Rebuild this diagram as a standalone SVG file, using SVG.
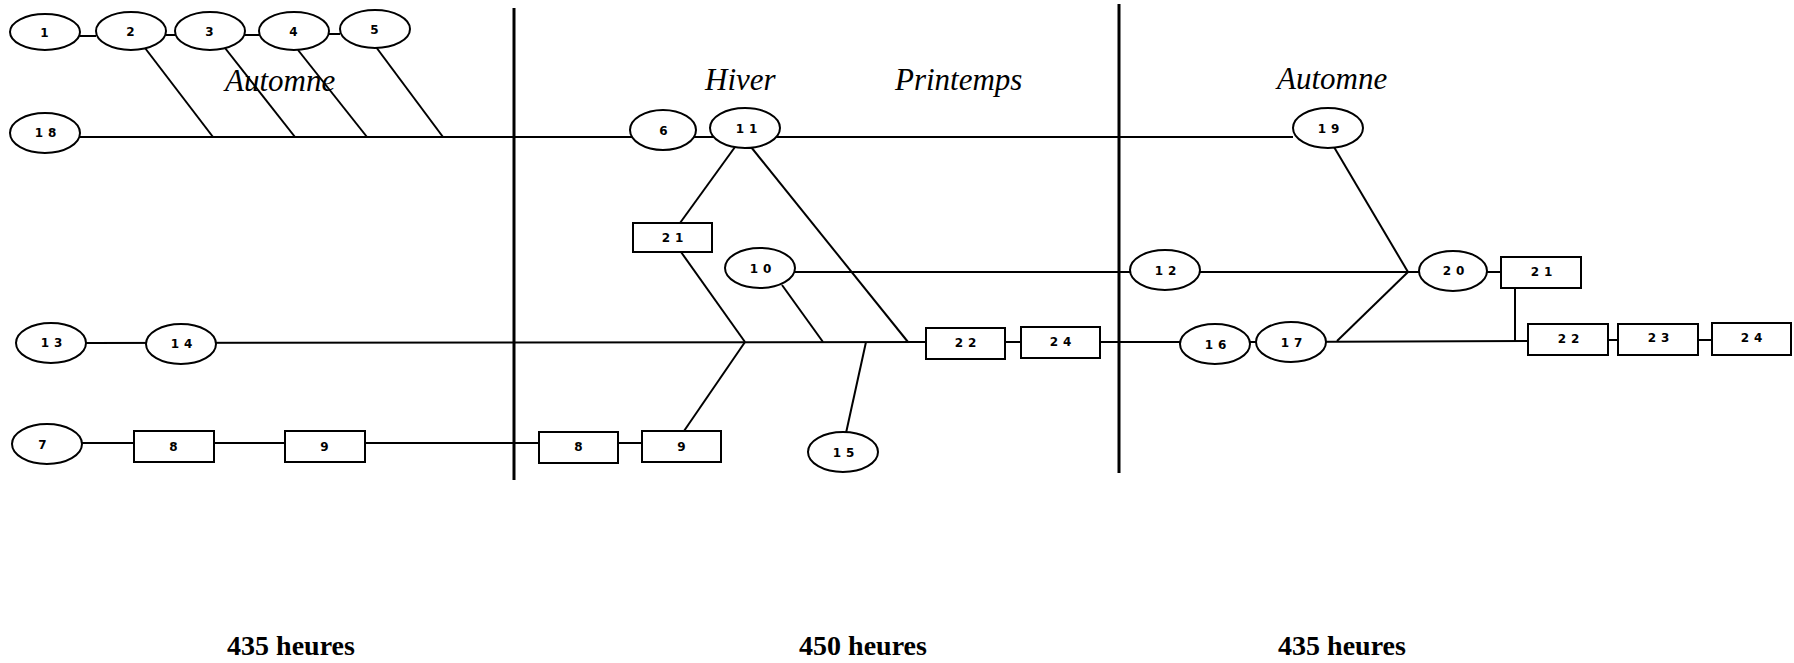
<svg xmlns="http://www.w3.org/2000/svg" width="1794" height="663" viewBox="0 0 1794 663">
<style>
.ln{stroke:#000;stroke-width:2;fill:none}
.div{stroke:#000;stroke-width:3;fill:none}
.el{fill:#fff;stroke:#000;stroke-width:2}
.bx{fill:#fff;stroke:#000;stroke-width:2}
.lb{font-family:"DejaVu Sans","Liberation Sans",sans-serif;font-weight:bold;font-size:12px;letter-spacing:5px;text-anchor:middle;dominant-baseline:central}
.season{font-family:"Liberation Serif","Times New Roman",serif;font-style:italic;font-size:31px}
.hrs{font-family:"Liberation Serif","Times New Roman",serif;font-weight:bold;font-size:28px;text-anchor:middle}
</style>
<rect width="1794" height="663" fill="#fff"/>
<g id="dividers">
<line class="div" x1="514" y1="8" x2="514" y2="480"/>
<line class="div" x1="1119" y1="4" x2="1119" y2="473"/>
</g>
<g id="connectors">
<polyline class="ln" points="80,36 96,36"/>
<polyline class="ln" points="166,35 175,35"/>
<polyline class="ln" points="245,35 259,35"/>
<polyline class="ln" points="329,34 340,34"/>
<line class="ln" x1="145" y1="48" x2="213" y2="137"/>
<line class="ln" x1="225" y1="48" x2="295" y2="137"/>
<line class="ln" x1="298" y1="50" x2="367" y2="137"/>
<line class="ln" x1="376" y1="47" x2="443" y2="137"/>
<line class="ln" x1="80" y1="137" x2="1293" y2="137"/>
<line class="ln" x1="735" y1="147" x2="680" y2="223"/>
<line class="ln" x1="751" y1="147" x2="908" y2="342"/>
<line class="ln" x1="681" y1="252" x2="745" y2="342"/>
<line class="ln" x1="745" y1="342" x2="684" y2="431"/>
<line class="ln" x1="782" y1="285" x2="823" y2="342"/>
<line class="ln" x1="866" y1="342" x2="846" y2="433"/>
<line class="ln" x1="795" y1="272" x2="1419" y2="272"/>
<line class="ln" x1="1334" y1="147" x2="1408" y2="272"/>
<line class="ln" x1="1337" y1="341" x2="1408" y2="272"/>
<line class="ln" x1="1487" y1="272" x2="1501" y2="272"/>
<line class="ln" x1="1515" y1="288" x2="1515" y2="341"/>
<line class="ln" x1="86" y1="343" x2="926" y2="342"/>
<line class="ln" x1="1005" y1="342" x2="1180" y2="342"/>
<line class="ln" x1="1250" y1="342" x2="1528" y2="341"/>
<line class="ln" x1="1608" y1="340" x2="1712" y2="340"/>
<line class="ln" x1="82" y1="443" x2="642" y2="443"/>
</g>
<g id="n1"><ellipse class="el" cx="45" cy="32" rx="35" ry="18"/><text class="lb" x="47" y="33">1</text></g>
<g id="n2"><ellipse class="el" cx="131" cy="31" rx="35" ry="19"/><text class="lb" x="133" y="32">2</text></g>
<g id="n3"><ellipse class="el" cx="210" cy="31" rx="35" ry="19"/><text class="lb" x="212" y="32">3</text></g>
<g id="n4"><ellipse class="el" cx="294" cy="31" rx="35" ry="19"/><text class="lb" x="296" y="32">4</text></g>
<g id="n5"><ellipse class="el" cx="375" cy="29" rx="35" ry="19"/><text class="lb" x="377" y="30">5</text></g>
<g id="n18"><ellipse class="el" cx="45" cy="133" rx="35" ry="20"/><text class="lb" x="48" y="133">18</text></g>
<g id="n6"><ellipse class="el" cx="663" cy="130" rx="33" ry="20"/><text class="lb" x="666" y="131">6</text></g>
<g id="n11"><ellipse class="el" cx="745" cy="128" rx="35" ry="20"/><text class="lb" x="749" y="129">11</text></g>
<g id="n19"><ellipse class="el" cx="1328" cy="128" rx="35" ry="20"/><text class="lb" x="1331" y="129">19</text></g>
<g id="n21a"><rect class="bx" x="633" y="223" width="79" height="29"/><text class="lb" x="675" y="238">21</text></g>
<g id="n10"><ellipse class="el" cx="760" cy="268" rx="35" ry="20"/><text class="lb" x="763" y="269">10</text></g>
<g id="n12"><ellipse class="el" cx="1165" cy="270" rx="35" ry="20"/><text class="lb" x="1168" y="271">12</text></g>
<g id="n20"><ellipse class="el" cx="1453" cy="271" rx="34" ry="20"/><text class="lb" x="1456" y="271">20</text></g>
<g id="n21b"><rect class="bx" x="1501" y="257" width="80" height="31"/><text class="lb" x="1544" y="272">21</text></g>
<g id="n13"><ellipse class="el" cx="51" cy="343" rx="35" ry="20"/><text class="lb" x="54" y="343">13</text></g>
<g id="n14"><ellipse class="el" cx="181" cy="344" rx="35" ry="20"/><text class="lb" x="184" y="344">14</text></g>
<g id="n22a"><rect class="bx" x="926" y="328" width="79" height="31"/><text class="lb" x="968" y="343">22</text></g>
<g id="n24a"><rect class="bx" x="1021" y="327" width="79" height="31"/><text class="lb" x="1063" y="342">24</text></g>
<g id="n16"><ellipse class="el" cx="1215" cy="344" rx="35" ry="20"/><text class="lb" x="1218" y="345">16</text></g>
<g id="n17"><ellipse class="el" cx="1291" cy="342" rx="35" ry="20"/><text class="lb" x="1294" y="343">17</text></g>
<g id="n22b"><rect class="bx" x="1528" y="324" width="80" height="31"/><text class="lb" x="1571" y="339">22</text></g>
<g id="n23"><rect class="bx" x="1618" y="324" width="80" height="31"/><text class="lb" x="1661" y="338">23</text></g>
<g id="n24b"><rect class="bx" x="1712" y="323" width="79" height="32"/><text class="lb" x="1754" y="338">24</text></g>
<g id="n7"><ellipse class="el" cx="47" cy="444" rx="35" ry="20"/><text class="lb" x="45" y="445">7</text></g>
<g id="n8a"><rect class="bx" x="134" y="431" width="80" height="31"/><text class="lb" x="176" y="447">8</text></g>
<g id="n9a"><rect class="bx" x="285" y="431" width="80" height="31"/><text class="lb" x="327" y="447">9</text></g>
<g id="n8b"><rect class="bx" x="539" y="432" width="79" height="31"/><text class="lb" x="581" y="447">8</text></g>
<g id="n9b"><rect class="bx" x="642" y="431" width="79" height="31"/><text class="lb" x="684" y="447">9</text></g>
<g id="n15"><ellipse class="el" cx="843" cy="452" rx="35" ry="20"/><text class="lb" x="846" y="453">15</text></g>
<g id="labels">
<text class="season" x="225" y="91">Automne</text>
<text class="season" x="705" y="90">Hiver</text>
<text class="season" x="895" y="90">Printemps</text>
<text class="season" x="1277" y="89">Automne</text>
<text class="hrs" x="291" y="655">435 heures</text>
<text class="hrs" x="863" y="655">450 heures</text>
<text class="hrs" x="1342" y="655">435 heures</text>
</g>
</svg>
